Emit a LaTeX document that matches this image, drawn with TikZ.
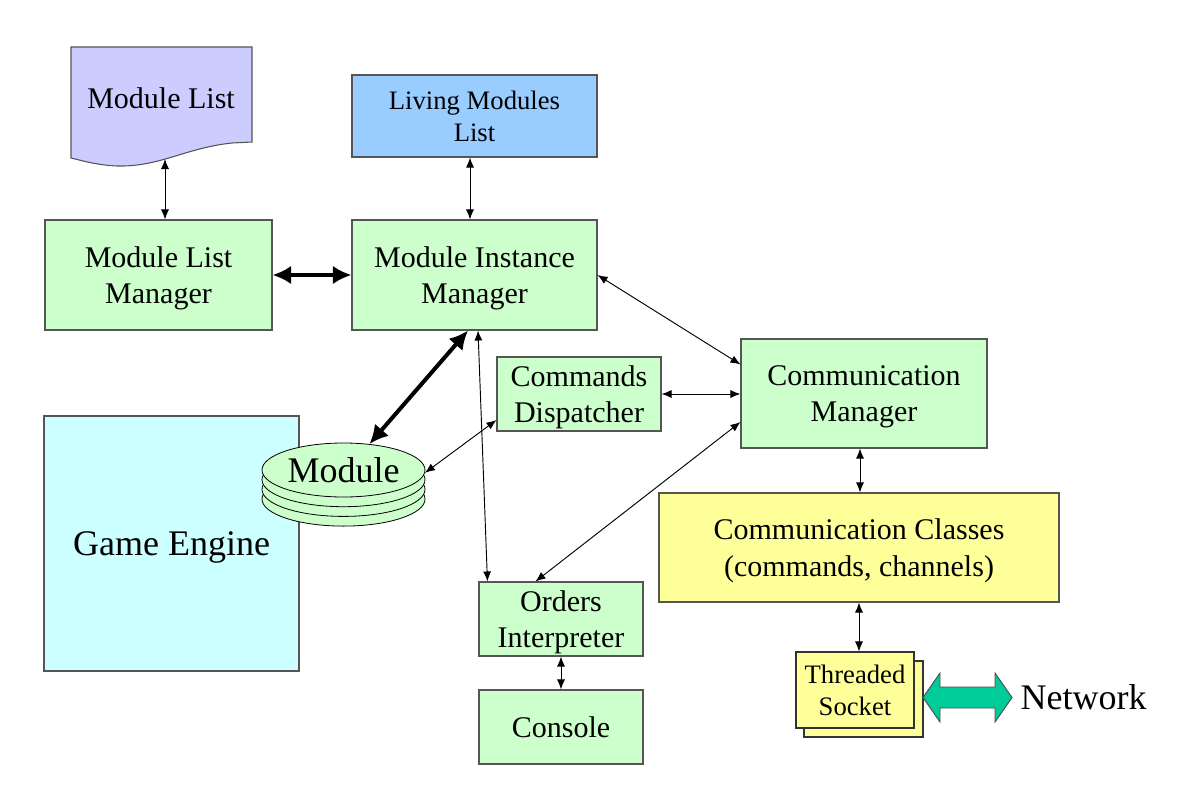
\documentclass[tikz,border=0pt]{standalone}
\usepackage{fontspec}
\setmainfont{Liberation Serif}
\usetikzlibrary{arrows.meta,calc,shapes.geometric}
\definecolor{gbox}{HTML}{CCFFCC}
\definecolor{bbox}{HTML}{99CCFF}
\definecolor{lbox}{HTML}{CCCCFF}
\definecolor{cbox}{HTML}{CCFFFF}
\definecolor{ybox}{HTML}{FFFF99}
\definecolor{teal}{HTML}{00CC99}
\definecolor{edge}{HTML}{555555}
\newcommand\fsz[2]{\fontsize{#1}{#2}\selectfont}
\begin{document}
\begin{tikzpicture}[x=0.75pt,y=-0.75pt,
  bx/.style={draw=edge, line width=0.8pt, fill=gbox, inner sep=0pt, align=center, text depth=0pt, font=\fsz{22.5}{27.5}},
  lnk/.style={line width=0.7pt, {Latex[length=7.5pt,width=6pt]}-{Latex[length=7.5pt,width=6pt]}},
  blnk/.style={line width=3pt, {Latex[length=14pt,width=14pt]}-{Latex[length=14pt,width=14pt]}},
  disk/.style={fill=gbox, draw=black, line width=0.6pt}
  ]
\useasboundingbox (0,0) rectangle (1191,799);
% Module List document
\draw[draw=edge, line width=0.8pt, fill=lbox]
  (71,47) -- (252,47) -- (252,142) -- (232,143)
  .. controls (185,148) and (160,167) .. (117,166)
  .. controls (95,165) and (80,160) .. (71,158) -- cycle;
\node[font=\fsz{22.5}{27}] (mlist) at (161,98) {Module List};
\coordinate (mlistb) at (165,159);
% boxes
\node[bx, fill=bbox, font=\fsz{20}{24}, minimum width={245*0.75pt}, minimum height={82*0.75pt}] (lml) at (474.5,116) {Living Modules\\List};
\node[bx, minimum width={227*0.75pt}, minimum height={110*0.75pt}] (mlm) at (158.5,275) {Module List\\Manager};
\node[bx, minimum width={245*0.75pt}, minimum height={110*0.75pt}] (mim) at (474.5,275) {Module Instance\\Manager};
\node[bx, minimum width={164*0.75pt}, minimum height={74*0.75pt}] (cd) at (579,394) {Commands\\Dispatcher};
\node[bx, minimum width={246*0.75pt}, minimum height={109*0.75pt}] (cm) at (864,393.5) {Communication\\Manager};
\node[bx, fill=cbox, font=\fsz{27}{32}, minimum width={255*0.75pt}, minimum height={255*0.75pt}] (ge) at (171.5,543.5) {Game Engine};
\node[bx, fill=ybox, minimum width={400*0.75pt}, minimum height={109*0.75pt}] (cc) at (859,547.5) {Communication Classes\\(commands, channels)};
\node[bx, minimum width={164*0.75pt}, minimum height={74*0.75pt}] (oi) at (561,619) {Orders\\Interpreter};
\node[bx, minimum width={164*0.75pt}, minimum height={74*0.75pt}] (con) at (561,727) {Console};
% Module stack
\foreach \k in {3,2,1} {
  \draw[disk] (343.5,{470+9.7*\k}) ellipse [x radius=81.5, y radius=27];
}
\node[disk, ellipse, inner sep=0pt, minimum width={163*0.75pt}, minimum height={54*0.75pt}, font=\fsz{27}{32}] (mod) at (343.5,470) {Module};
% Threaded socket
\draw[draw=black!80, line width=0.8pt, fill=ybox] (804,661) rectangle (923,737);
\node[bx, draw=black!80, fill=ybox, font=\fsz{20}{24}, minimum width={118*0.75pt}, minimum height={76*0.75pt}] (sock) at (855,690) {Threaded\\Socket};
% Network
\draw[fill=teal, draw=black!70, line width=0.7pt]
  (923,697.5) -- (940,673) -- (940,687) -- (995,687) -- (995,673) -- (1012,697.5)
  -- (995,722) -- (995,708) -- (940,708) -- (940,722) -- cycle;
\node[font=\fsz{27}{32}, anchor=west] (net) at (1016,697) {Network};
% connectors
\draw[lnk] (mlistb) -- (mlistb |- mlm.north);
\draw[lnk] ($(lml.south)+(-4.5,0)$) -- ($(mim.north)+(-4.5,0)$);
\draw[blnk] (mlm.east) -- (mim.west);
\draw[lnk] (mim.east) -- ($(cm.north west)+(0,26)$);
\draw[lnk] (cd.east) -- (cd.east -| cm.west);
\draw[blnk] ($(mim.south)+(-6.5,0)$) -- (mod.45.5);
\draw[lnk] ($(mim.south)+(3.5,0)$) -- ($(oi.north west)+(9,0)$);
\draw[lnk] ($(cd.west)+(0,26)$) -- (mod.-2);
\draw[lnk] ($(cm.west)+(0,28.5)$) -- ($(oi.north west)+(57,0)$);
\draw[lnk] ($(cm.south)+(-4,0)$) -- ($(cc.north)+(1,0)$);
\draw[lnk] (cc.south) -- (cc.south |- sock.north);
\draw[lnk] (oi.south) -- (con.north);
\end{tikzpicture}
\end{document}
